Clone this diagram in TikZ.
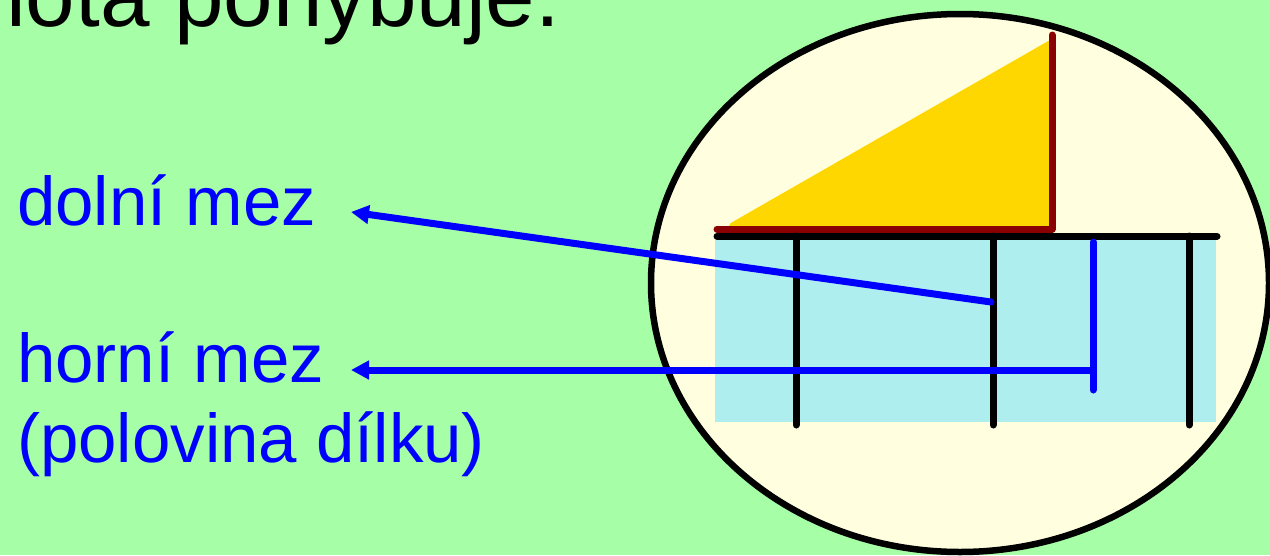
\documentclass[tikz,border=0pt]{standalone}
\usepackage{fontspec}
\setmainfont{Liberation Sans}
\usetikzlibrary{arrows.meta}
\definecolor{bggreen}{RGB}{166,255,166}
\definecolor{lens}{RGB}{255,255,224}
\definecolor{scalebg}{RGB}{175,238,238}
\definecolor{gold}{RGB}{255,215,0}
\definecolor{darkred}{RGB}{139,0,0}
\tikzset{
  label/.style={anchor=base west, inner sep=0pt, text=blue, font=\fontsize{69}{80}\selectfont},
  title/.style={anchor=base west, inner sep=0pt, text=black, font=\fontsize{89}{100}\selectfont},
  scaleline/.style={draw=black, line width=7pt, line cap=round},
  redline/.style={draw=darkred, line width=7pt, line cap=round, line join=round},
  pointer/.style={draw=blue, line width=7pt, -{Triangle[length=18pt,width=18pt]}},
  blueline/.style={draw=blue, line width=7pt, line cap=round}
}
\begin{document}
\begin{tikzpicture}[x=1pt,y=-1pt]
\useasboundingbox (0,0) rectangle (1270,555);
\clip (0,0) rectangle (1270,555);
\fill[bggreen] (0,0) rectangle (1270,555);
% title (cut off at top, as in the reference)
\node[title] (ttl) at (6,26) {lota pohybuje.};
% magnifier lens
\draw[fill=lens, line width=6.5pt] (960,283) ellipse [x radius=309, y radius=269];
% scale background
\fill[scalebg] (715,238) rectangle (1216,422);
% gold triangle
\fill[gold, rounded corners=2pt] (729,224) -- (1050,40) -- (1050,229) -- (729,229) -- cycle;
% dark red edges
\draw[redline] (717,229) -- (1052,229) -- (1052,35);
% scale line and ticks
\coordinate (s0) at (717,236);
\coordinate (s1) at (1217,236);
\draw[scaleline] (s0) -- (s1);
\draw[scaleline] (796,236) -- (796,425);
\draw[scaleline] (993,236) -- (993,425);
\draw[scaleline] (1189,236) -- (1189,425);
% labels
\node[label] (dolni) at (17,225) {dolní mez};
\node[label] (horni) at (17,382) {horní mez};
\node[label] (polov) at (17,462) {(polovina dílku)};
% pointers
\coordinate (lowtip) at (351,212);
\coordinate (lowend) at (991,302);
\coordinate (hightip) at (351,370);
\coordinate (highend) at (1093,370);
\coordinate (halftop) at (1093,242);
\coordinate (halfbot) at (1093,390);
\draw[blueline] (halftop) -- (halfbot);
\draw[pointer, line cap=round] (lowend) -- (lowtip);
\draw[pointer] (highend) -- (hightip);
\end{tikzpicture}
\end{document}
